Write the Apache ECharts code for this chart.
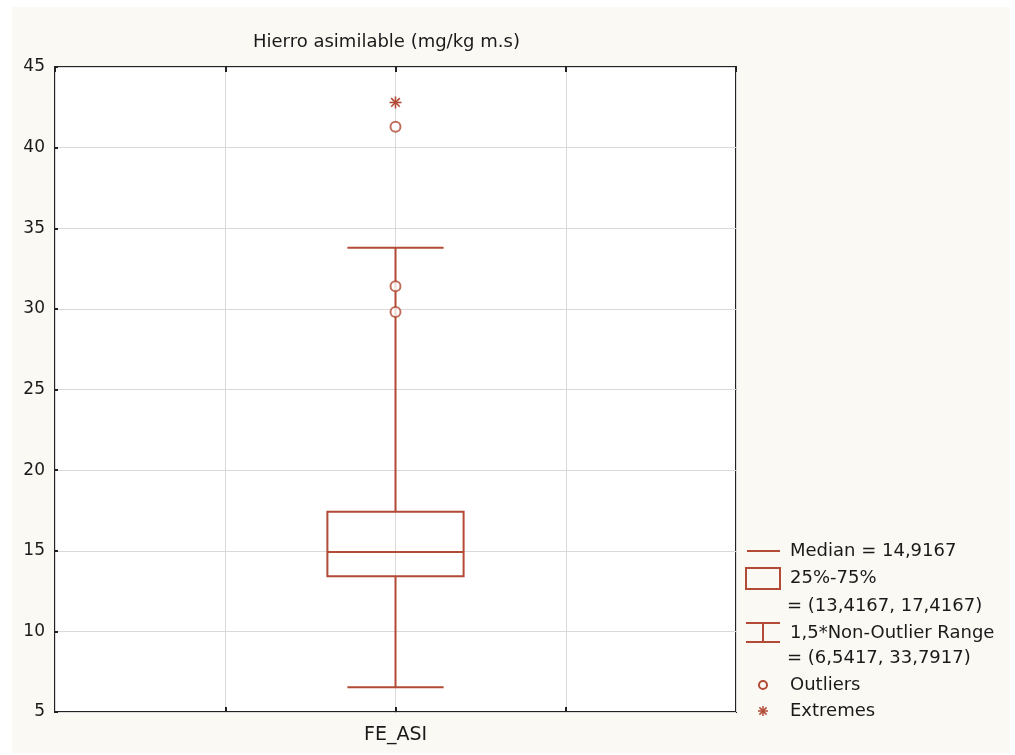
<!DOCTYPE html>
<html><head><meta charset="utf-8">
<script src="https://cdn.jsdelivr.net/npm/echarts@6/dist/echarts.min.js"></script>
<style>
html,body{margin:0;padding:0;background:#fff;width:1015px;height:755px;overflow:hidden}
#main{position:absolute;left:12px;top:7px;width:998px;height:746px;background:#fbf9f4}
</style>
</head><body><div id="main"></div>
<script>
// ---- data ----
const title = 'Hierro asimilable (mg/kg m.s)';
const categories = ['FE_ASI'];
const whiskerLow = [6.5417];
const q1 = [13.4167];
const median = [14.9167];
const q3 = [17.4167];
const whiskerHigh = [33.7917];
const outliers = [29.8, 31.4, 41.3];
const extremes = [42.8];
const yMin = 5, yMax = 45, yStep = 5;

const C = '#b24a36';
const TXT = '#1a1a1a';
const FONT = 'DejaVu Sans';
const catPos = 2; // category centred on a 0..4 x scale
const fmt = v => String(v).replace('.', ',');

const boxData = categories.map((c, i) => [catPos, whiskerLow[i], q1[i], median[i], q3[i], whiskerHigh[i]]);
const outData = outliers.map(v => [catPos, v]);
const extData = extremes.map(v => [catPos, v]);

function asterisk(cx, cy, r, lw) {
  const d = r * 0.72;
  const s = {stroke: C, lineWidth: lw};
  return [
    {type: 'line', shape: {x1: cx, y1: cy - r, x2: cx, y2: cy + r}, style: s},
    {type: 'line', shape: {x1: cx - r, y1: cy, x2: cx + r, y2: cy}, style: s},
    {type: 'line', shape: {x1: cx - d, y1: cy - d, x2: cx + d, y2: cy + d}, style: s},
    {type: 'line', shape: {x1: cx - d, y1: cy + d, x2: cx + d, y2: cy - d}, style: s}
  ];
}

const chart = echarts.init(document.getElementById('main'), null, {renderer: 'canvas'});

const legendText = (t, x, y) => ({type: 'text', style: {text: t, x: x, y: y, fill: TXT, font: '18px ' + FONT, verticalAlign: 'middle'}});
const ls = {stroke: C, lineWidth: 2, fill: 'none'};

chart.setOption({
  animation: false,
  backgroundColor: 'transparent',
  title: {
    text: title, left: 236, top: 21,
    textStyle: {fontFamily: FONT, fontSize: 18, fontWeight: 'normal', color: TXT}
  },
  grid: {left: 43, top: 60, width: 681, height: 645, show: true, backgroundColor: '#fff', borderColor: '#222', borderWidth: 2},
  xAxis: [{
    type: 'value', min: 0, max: 4, interval: 1, position: 'bottom',
    axisLine: {show: false},
    axisTick: {show: true, inside: true, length: 5, lineStyle: {color: '#222', width: 2}},
    splitLine: {show: true, lineStyle: {color: '#d9d9d9', width: 1}},
    axisLabel: {
      margin: 14, color: TXT, fontFamily: FONT, fontSize: 19,
      formatter: v => (v === catPos ? categories[0] : ''),
      showMinLabel: false, showMaxLabel: false
    }
  }, {
    type: 'value', min: 0, max: 4, interval: 1, position: 'top',
    axisLine: {show: false},
    axisTick: {show: true, inside: true, length: 5, lineStyle: {color: '#222', width: 2}},
    splitLine: {show: false},
    axisLabel: {show: false}
  }],
  yAxis: {
    type: 'value', min: yMin, max: yMax, interval: yStep,
    axisLine: {show: false},
    axisTick: {show: true, inside: true, length: 3, lineStyle: {color: '#222', width: 2}},
    splitLine: {show: true, lineStyle: {color: '#d9d9d9', width: 1}},
    axisLabel: {margin: 10, color: TXT, fontFamily: FONT, fontSize: 17, padding: [0, 0, 7, 0]}
  },
  series: [{
    type: 'custom', name: 'box', data: boxData,
    renderItem(params, api) {
      const x = api.value(0);
      const pLow = api.coord([x, api.value(1)]);
      const pQ1 = api.coord([x, api.value(2)]);
      const pMed = api.coord([x, api.value(3)]);
      const pQ3 = api.coord([x, api.value(4)]);
      const pHigh = api.coord([x, api.value(5)]);
      const bw = api.size([0.8, 0])[0];
      const cw = api.size([0.565, 0])[0];
      const cx = pLow[0];
      return {type: 'group', children: [
        {type: 'line', shape: {x1: cx, y1: pLow[1], x2: cx, y2: pQ1[1]}, style: ls},
        {type: 'line', shape: {x1: cx, y1: pQ3[1], x2: cx, y2: pHigh[1]}, style: ls},
        {type: 'line', shape: {x1: cx - cw / 2, y1: pLow[1], x2: cx + cw / 2, y2: pLow[1]}, style: ls},
        {type: 'line', shape: {x1: cx - cw / 2, y1: pHigh[1], x2: cx + cw / 2, y2: pHigh[1]}, style: ls},
        {type: 'rect', shape: {x: cx - bw / 2, y: pQ3[1], width: bw, height: pQ1[1] - pQ3[1]}, style: ls},
        {type: 'line', shape: {x1: cx - bw / 2, y1: pMed[1], x2: cx + bw / 2, y2: pMed[1]}, style: ls}
      ]};
    }
  }, {
    type: 'scatter', name: 'Outliers', data: outData,
    symbol: 'circle', symbolSize: 10,
    itemStyle: {color: '#fff', borderColor: C, borderWidth: 2}
  }, {
    type: 'custom', name: 'Extremes', data: extData,
    renderItem(params, api) {
      const p = api.coord([api.value(0), api.value(1)]);
      return {type: 'group', children: asterisk(p[0], p[1], 6, 1.6)};
    }
  }],
  graphic: [
    {type: 'line', shape: {x1: 735, y1: 544, x2: 768, y2: 544}, style: ls},
    legendText('Median = ' + fmt(median[0]), 778, 544),
    {type: 'rect', shape: {x: 734, y: 561, width: 34, height: 21}, style: ls},
    legendText('25%-75%', 778, 571),
    legendText('= (' + fmt(q1[0]) + ', ' + fmt(q3[0]) + ')', 775, 599),
    {type: 'line', shape: {x1: 734, y1: 616, x2: 768, y2: 616}, style: ls},
    {type: 'line', shape: {x1: 734, y1: 635, x2: 768, y2: 635}, style: ls},
    {type: 'line', shape: {x1: 751, y1: 616, x2: 751, y2: 635}, style: ls},
    legendText('1,5*Non-Outlier Range', 778, 626),
    legendText('= (' + fmt(whiskerLow[0]) + ', ' + fmt(whiskerHigh[0]) + ')', 775, 651),
    {type: 'circle', shape: {cx: 751, cy: 678, r: 4}, style: {stroke: C, lineWidth: 2, fill: '#fbf9f4'}},
    legendText('Outliers', 778, 678),
    {type: 'group', children: asterisk(751, 704, 5, 1.5)},
    legendText('Extremes', 778, 704)
  ]
});
</script>
</body></html>
